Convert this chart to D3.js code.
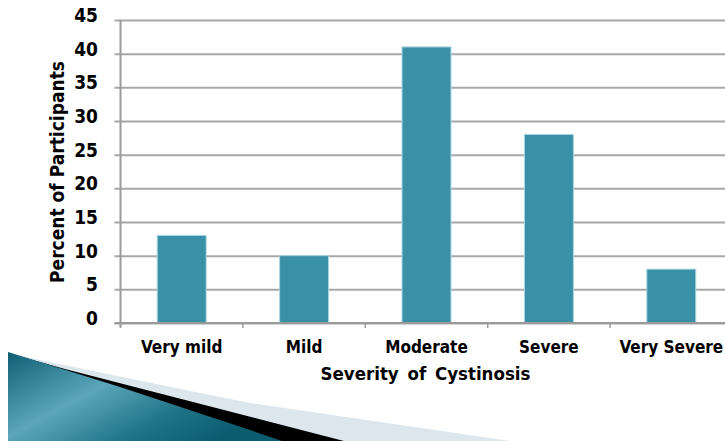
<!DOCTYPE html>
<html>
<head>
<meta charset="utf-8">
<script src="https://cdn.jsdelivr.net/npm/d3@7"></script>
<style>
  html, body { margin: 0; padding: 0; background: #fff; }
  svg { display: block; }
  text { font-family: "DejaVu Sans Condensed", "DejaVu Sans", sans-serif; font-stretch: condensed; font-weight: bold; fill: #000; }
</style>
</head>
<body>
<svg id="chart" width="725" height="441"></svg>
<script>
// Distribution of participants by disease severity
const categories = ["Very mild", "Mild", "Moderate", "Severe", "Very Severe"];
const percents = [13, 10, 41, 28, 8];
const yTicks = [0, 5, 10, 15, 20, 25, 30, 35, 40, 45];
const xTitle = "Severity of Cystinosis";
const yTitle = "Percent of Participants";

const svg = d3.select("#chart");
const W = 725, H = 441;
const plotLeft = 120.5, plotRight = 732.5, plotTop = 20, plotBottom = 323;

// Slide decoration in the lower-left corner
const defs = svg.append("defs");
const grad = defs.append("linearGradient")
  .attr("id", "tealGrad")
  .attr("x1", "0%").attr("y1", "0%").attr("x2", "100%").attr("y2", "60%");
grad.append("stop").attr("offset", "0%").attr("stop-color", "#0f5f74");
grad.append("stop").attr("offset", "42%").attr("stop-color", "#5ba6b9");
grad.append("stop").attr("offset", "75%").attr("stop-color", "#1f7387");
grad.append("stop").attr("offset", "100%").attr("stop-color", "#0c5c70");

const deco = svg.append("g").attr("class", "decoration");
deco.append("path")
  .attr("d", "M8,353 L40,360 L200,393 L250,403 L510,441 L8,441 Z")
  .attr("fill", "#dbe7ed");
deco.append("path")
  .attr("d", "M8,353 L65,369 L344,441 L8,441 Z")
  .attr("fill", "#000");
deco.append("path")
  .attr("d", "M8,352 L120,387 L250,430 L282,441 L8,441 Z")
  .attr("fill", "url(#tealGrad)");

// Scales
const x = d3.scaleBand()
  .domain(categories)
  .range([plotLeft, plotRight])
  .paddingInner(0.6)
  .paddingOuter(0.3);

const y = d3.scaleLinear()
  .domain([0, 45])
  .range([plotBottom, plotTop]);

// Horizontal gridlines with left ticks
const yAxis = d3.axisLeft(y)
  .tickValues(yTicks)
  .tickSize(-(W - plotLeft + 10))
  .tickSizeOuter(0)
  .tickPadding(0)
  .tickFormat("");
const gy = svg.append("g")
  .attr("transform", `translate(${plotLeft},0)`)
  .call(yAxis);
gy.select(".domain").remove();
gy.selectAll(".tick line")
  .attr("x1", -6)
  .attr("stroke", "#a8a8a8")
  .attr("stroke-width", 2);

// Y tick labels
svg.append("g").selectAll("text")
  .data(yTicks)
  .join("text")
  .attr("x", 98)
  .attr("y", d => y(d) + 2)
  .attr("text-anchor", "end")
  .style("font-size", "19px")
  .text(d => d);

// Bars
svg.append("g").selectAll("rect")
  .data(categories)
  .join("rect")
  .attr("x", (d) => x(d))
  .attr("y", (d, i) => y(percents[i]))
  .attr("width", x.bandwidth())
  .attr("height", (d, i) => y(0) - y(percents[i]))
  .attr("fill", "#3a90a6")
  .attr("stroke", "#a9d6e1")
  .attr("stroke-width", 1);

// Y axis line
svg.append("line")
  .attr("x1", plotLeft).attr("x2", plotLeft)
  .attr("y1", plotTop).attr("y2", plotBottom + 4)
  .attr("stroke", "#9a9a9a").attr("stroke-width", 2);

// X axis line and band-boundary ticks
svg.append("line")
  .attr("x1", plotLeft - 6).attr("x2", W)
  .attr("y1", plotBottom).attr("y2", plotBottom)
  .attr("stroke", "#9a9a9a").attr("stroke-width", 2);
const step = x.step();
const boundaries = d3.range(categories.length + 1).map(i => plotLeft + i * step);
svg.append("g").selectAll("line")
  .data(boundaries)
  .join("line")
  .attr("x1", d => d).attr("x2", d => d)
  .attr("y1", plotBottom).attr("y2", plotBottom + 5)
  .attr("stroke", "#9a9a9a").attr("stroke-width", 1.5);

// Category labels
svg.append("g").selectAll("text")
  .data(categories)
  .join("text")
  .attr("x", d => x(d) + x.bandwidth() / 2)
  .attr("y", 353)
  .attr("text-anchor", "middle")
  .style("font-size", "17px")
  .text(d => d);

// Axis titles
svg.append("text")
  .attr("x", (plotLeft + plotRight) / 2 - 1)
  .attr("y", 380)
  .attr("text-anchor", "middle")
  .style("font-size", "18.5px")
  .style("word-spacing", "3px")
  .text(xTitle);

svg.append("text")
  .attr("transform", "translate(64,172) rotate(-90)")
  .attr("text-anchor", "middle")
  .style("font-size", "19px")
  .text(yTitle);
</script>
</body>
</html>
